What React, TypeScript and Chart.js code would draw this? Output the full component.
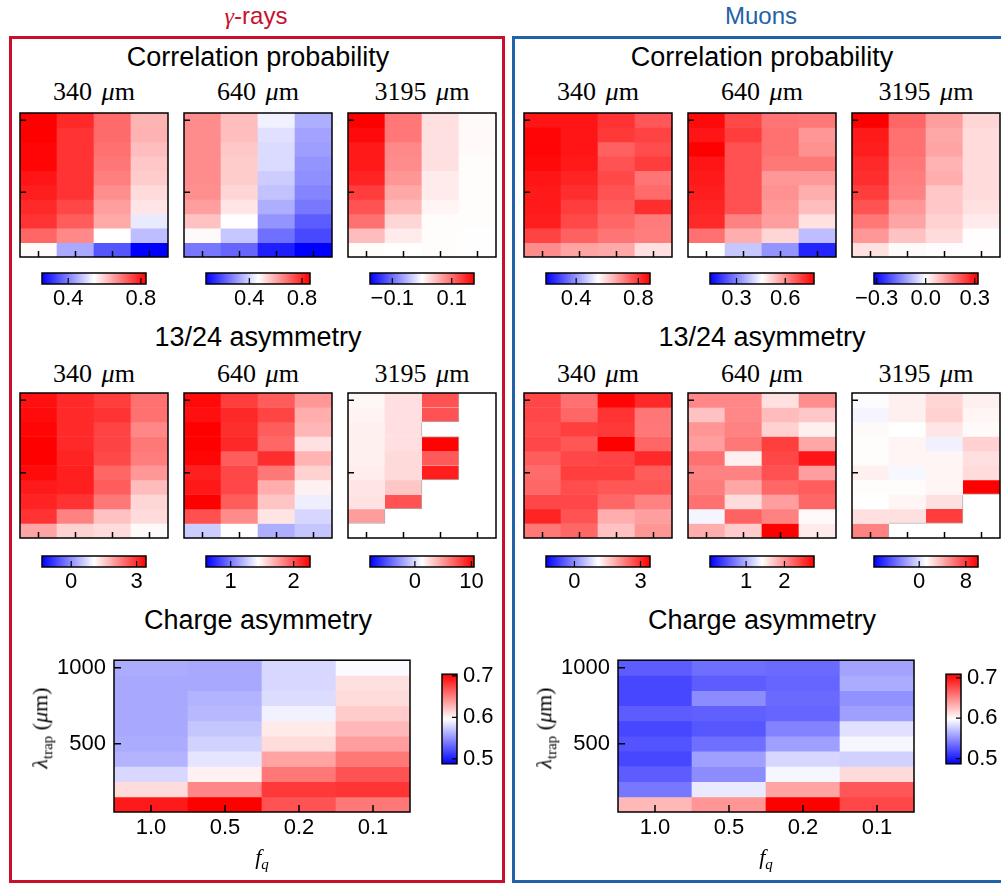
import React, { useEffect, useRef } from 'react';
import { Chart, registerables } from 'chart.js';

Chart.register(...registerables);

type Cell = number | null;
type Grid = Cell[][];

// Columns: quenching fraction f_q; rows: trap length λ_trap in μm (top row first)
const fqLabels = ['1.0', '0.5', '0.2', '0.1'];
const lambdaTrap = [1000, 900, 800, 700, 600, 500, 400, 300, 200, 100];
const lambdaStep = 100;
const lambdaTicks = [500, 1000];
const pitchLabels = ['340', '640', '3195'];

// γ-rays — correlation probability
const gammaCorr340: Grid = [
  [0.828, 0.782, 0.708, 0.626],
  [0.828, 0.771, 0.708, 0.628],
  [0.822, 0.771, 0.702, 0.616],
  [0.822, 0.771, 0.696, 0.605],
  [0.805, 0.771, 0.685, 0.599],
  [0.794, 0.771, 0.668, 0.582],
  [0.782, 0.748, 0.651, 0.571],
  [0.771, 0.725, 0.639, 0.519],
  [0.714, 0.674, 0.542, 0.468],
  [0.548, 0.445, 0.353, 0.256],
];
const gammaCorr640: Grid = [
  [0.644, 0.569, 0.442, 0.340],
  [0.644, 0.569, 0.419, 0.324],
  [0.644, 0.553, 0.411, 0.316],
  [0.644, 0.545, 0.411, 0.300],
  [0.644, 0.545, 0.387, 0.292],
  [0.640, 0.529, 0.371, 0.276],
  [0.616, 0.506, 0.340, 0.257],
  [0.561, 0.466, 0.300, 0.213],
  [0.474, 0.379, 0.245, 0.182],
  [0.257, 0.229, 0.118, 0.071],
];
const gammaCorr3195: Grid = [
  [0.175, 0.093, 0.021, 0.004],
  [0.168, 0.093, 0.021, 0.004],
  [0.158, 0.082, 0.021, 0.004],
  [0.158, 0.079, 0.021, 0.002],
  [0.151, 0.072, 0.014, 0.002],
  [0.133, 0.060, 0.014, 0.002],
  [0.119, 0.049, 0.007, 0.002],
  [0.098, 0.028, 0.002, 0.002],
  [0.046, 0.014, 0.002, 0.001],
  [0.002, 0.000, 0.002, 0.001],
];

// γ-rays — 13/24 asymmetry
const gammaAsym340: Grid = [
  [3.29, 3.05, 2.86, 2.38],
  [3.33, 3.05, 2.95, 2.38],
  [3.38, 3.05, 2.81, 2.17],
  [3.43, 3.05, 2.81, 2.31],
  [3.43, 3.10, 2.76, 2.26],
  [3.33, 3.14, 2.48, 2.02],
  [3.19, 3.14, 2.57, 1.67],
  [3.10, 2.95, 2.31, 1.43],
  [2.95, 2.21, 1.62, 1.38],
  [1.90, 1.47, 1.38, 1.09],
];
const gammaAsym640: Grid = [
  [2.23, 2.06, 1.96, 1.77],
  [2.21, 2.13, 2.04, 1.70],
  [2.26, 2.11, 1.96, 1.67],
  [2.26, 2.13, 1.93, 1.53],
  [2.24, 1.96, 2.11, 1.68],
  [2.16, 2.03, 1.87, 1.58],
  [2.18, 2.03, 1.70, 1.48],
  [2.26, 1.96, 1.62, 1.38],
  [2.00, 1.81, 1.52, 1.30],
  [1.27, 1.44, 1.17, 1.25],
];
const gammaAsym3195: Grid = [
  [1.6, 2.4, 7.5, null],
  [1.7, 2.4, 7.5, null],
  [1.8, 2.4, null, null],
  [1.8, 2.4, 10.4, null],
  [1.8, 2.6, 7.2, null],
  [1.9, 2.6, 9.4, null],
  [2.2, 3.3, null, null],
  [2.3, 7.5, null, null],
  [4.8, null, null, null],
  [null, null, null, null],
];

// γ-rays — charge asymmetry
const gammaCharge: Grid = [
  [0.561, 0.559, 0.579, 0.594],
  [0.559, 0.559, 0.579, 0.609],
  [0.559, 0.564, 0.581, 0.611],
  [0.559, 0.566, 0.590, 0.618],
  [0.559, 0.572, 0.605, 0.626],
  [0.561, 0.577, 0.611, 0.637],
  [0.564, 0.585, 0.635, 0.653],
  [0.579, 0.602, 0.653, 0.669],
  [0.611, 0.647, 0.680, 0.682],
  [0.693, 0.704, 0.669, 0.653],
];

// Muons — correlation probability
const muonCorr340: Grid = [
  [0.848, 0.848, 0.808, 0.761],
  [0.868, 0.848, 0.801, 0.788],
  [0.868, 0.848, 0.748, 0.775],
  [0.862, 0.842, 0.768, 0.795],
  [0.848, 0.828, 0.781, 0.721],
  [0.842, 0.815, 0.768, 0.735],
  [0.842, 0.795, 0.755, 0.815],
  [0.835, 0.781, 0.741, 0.714],
  [0.788, 0.748, 0.721, 0.711],
  [0.691, 0.661, 0.654, 0.581],
];
const muonCorr640: Grid = [
  [0.764, 0.687, 0.630, 0.627],
  [0.751, 0.700, 0.636, 0.588],
  [0.777, 0.675, 0.636, 0.595],
  [0.751, 0.675, 0.627, 0.627],
  [0.745, 0.675, 0.588, 0.585],
  [0.739, 0.675, 0.595, 0.559],
  [0.732, 0.675, 0.588, 0.540],
  [0.726, 0.614, 0.579, 0.495],
  [0.636, 0.559, 0.508, 0.374],
  [0.457, 0.387, 0.323, 0.182],
];
const muonCorr3195: Grid = [
  [0.320, 0.193, 0.123, 0.053],
  [0.288, 0.180, 0.110, 0.047],
  [0.282, 0.180, 0.116, 0.047],
  [0.269, 0.171, 0.097, 0.047],
  [0.263, 0.164, 0.104, 0.047],
  [0.244, 0.158, 0.072, 0.047],
  [0.218, 0.132, 0.072, 0.040],
  [0.171, 0.116, 0.059, 0.027],
  [0.132, 0.078, 0.047, 0.005],
  [0.040, 0.008, 0.005, 0.005],
];

// Muons — 13/24 asymmetry
const muonAsym340: Grid = [
  [2.77, 2.39, 3.38, 3.05],
  [2.77, 2.49, 2.96, 2.34],
  [2.72, 2.86, 2.91, 2.32],
  [2.77, 2.63, 3.43, 2.49],
  [2.58, 2.77, 2.82, 3.05],
  [2.44, 2.86, 2.86, 2.58],
  [2.49, 2.72, 2.63, 2.63],
  [2.77, 2.77, 2.49, 2.23],
  [3.10, 2.67, 1.83, 1.97],
  [2.32, 2.49, 1.64, 2.04],
];
const muonAsym640: Grid = [
  [2.05, 2.05, 1.58, 2.02],
  [1.74, 2.05, 1.77, 1.71],
  [1.98, 2.08, 1.66, 1.50],
  [1.93, 2.13, 2.44, 1.88],
  [2.17, 1.50, 2.39, 2.66],
  [2.08, 2.08, 2.34, 1.93],
  [2.11, 1.88, 2.23, 2.28],
  [2.17, 1.60, 1.93, 2.23],
  [1.36, 2.25, 2.08, 1.44],
  [1.85, 1.69, 2.77, 1.52],
];
const muonAsym3195: Grid = [
  [1.08, 1.71, 2.60, 1.71],
  [0.81, 1.71, 2.78, 1.53],
  [1.35, 1.17, 2.06, 1.35],
  [1.26, 1.53, 0.63, 2.78],
  [1.26, 1.53, 1.53, 2.24],
  [1.71, 0.90, 1.53, 2.42],
  [1.26, 1.26, 1.53, 10.1],
  [1.17, 1.53, 2.24, null],
  [2.24, 2.24, 7.96, null],
  [5.55, null, null, null],
];

// Muons — charge asymmetry
const muonCharge: Grid = [
  [0.527, 0.535, 0.533, 0.558],
  [0.518, 0.527, 0.531, 0.562],
  [0.518, 0.548, 0.533, 0.550],
  [0.527, 0.529, 0.531, 0.556],
  [0.518, 0.525, 0.544, 0.585],
  [0.523, 0.535, 0.556, 0.594],
  [0.518, 0.556, 0.580, 0.578],
  [0.527, 0.548, 0.594, 0.614],
  [0.539, 0.589, 0.638, 0.671],
  [0.629, 0.644, 0.709, 0.678],
];

// Colour limits and colour-bar ticks
const gammaCorrRange = [[0.256, 0.828], [0.071, 0.861], [-0.175, 0.175]];
const gammaCorrTicks = [[0.4, 0.8], [0.4, 0.8], [-0.1, 0.1]];
const gammaCorrTickText = [['0.4', '0.8'], ['0.4', '0.8'], ['\u22120.1', '0.1']];
const gammaAsymRange = [[-1.34, 3.43], [0.608, 2.259], [-7.94, 10.46]];
const gammaAsymTicks = [[0, 3], [1, 2], [0, 10]];
const gammaAsymTickText = [['0', '3'], ['1', '2'], ['0', '10']];
const gammaChargeRange = [0.488, 0.704];

const muonCorrRange = [[0.206, 0.875], [0.137, 0.777], [-0.316, 0.32]];
const muonCorrTicks = [[0.4, 0.8], [0.3, 0.6], [-0.3, 0, 0.3]];
const muonCorrTickText = [['0.4', '0.8'], ['0.3', '0.6'], ['\u22120.3', '0.0', '0.3']];
const muonAsymRange = [[-1.29, 3.43], [0.059, 2.77], [-7.76, 10.1]];
const muonAsymTicks = [[0, 3], [1, 2], [0, 8]];
const muonAsymTickText = [['0', '3'], ['1', '2'], ['0', '8']];
const muonChargeRange = [0.487, 0.709];

const chargeTicks = [0.5, 0.6, 0.7];
const chargeTickText = ['0.5', '0.6', '0.7'];

const SANS = "'Liberation Sans', Arial, Helvetica, sans-serif";
const SERIF = "'Liberation Serif', 'Times New Roman', serif";
const tickFont = { family: "'Liberation Sans', Arial, sans-serif", size: 22 };

// matplotlib "bwr" colormap: blue -> white -> red
function bwr(v: number, lo: number, hi: number): string {
  const t = Math.min(1, Math.max(0, (v - lo) / (hi - lo)));
  if (t <= 0.5) {
    const c = Math.round(510 * t);
    return `rgb(${c},${c},255)`;
  }
  const c = Math.round(510 * (1 - t));
  return `rgb(255,${c},${c})`;
}

// Frame around the plot area with inward-pointing tick marks
function heatmapFrame(tickLen: number) {
  return {
    id: 'heatmapFrame',
    afterDatasetsDraw(chart: any) {
      const { ctx, chartArea: a } = chart;
      const xs = chart.scales.x;
      const ys = chart.scales.y;
      ctx.save();
      ctx.strokeStyle = '#000';
      ctx.lineWidth = 1.5;
      ctx.beginPath();
      fqLabels.forEach((_, i) => {
        const x = xs.getPixelForValue(i);
        ctx.moveTo(x, a.bottom);
        ctx.lineTo(x, a.bottom - tickLen);
      });
      lambdaTicks.forEach((v) => {
        const y = ys.getPixelForValue(v);
        ctx.moveTo(a.left, y);
        ctx.lineTo(a.left + tickLen, y);
      });
      ctx.stroke();
      ctx.strokeRect(a.left, a.top, a.right - a.left, a.bottom - a.top);
      ctx.restore();
    },
  };
}

function colorbarFrame(vertical: boolean, ticks: number[]) {
  return {
    id: 'colorbarFrame',
    afterDatasetsDraw(chart: any) {
      const { ctx, chartArea: a } = chart;
      const s = vertical ? chart.scales.y : chart.scales.x;
      ctx.save();
      ctx.strokeStyle = '#000';
      ctx.lineWidth = 1.2;
      ctx.beginPath();
      ticks.forEach((v) => {
        const p = s.getPixelForValue(v);
        if (vertical) {
          ctx.moveTo(a.right, p);
          ctx.lineTo(a.right - 5, p);
        } else {
          ctx.moveTo(p, a.bottom);
          ctx.lineTo(p, a.bottom - 6);
        }
      });
      ctx.stroke();
      ctx.lineWidth = 1.5;
      ctx.strokeRect(a.left, a.top, a.right - a.left, a.bottom - a.top);
      ctx.restore();
    },
  };
}

type HeatmapProps = {
  grid: Grid;
  range: number[];
  left: number;
  top: number;
  width: number;
  height: number;
  axes?: boolean;
};

function Heatmap({ grid, range, left, top, width, height, axes = false }: HeatmapProps) {
  const ref = useRef<HTMLCanvasElement>(null);
  const pad = axes ? { top: 6, right: 4, left: 0, bottom: 0 } : { top: 3, right: 3, left: 3, bottom: 3 };
  const yAxisW = axes ? 60 : 0;
  const xAxisH = axes ? 34 : 0;
  const cw = pad.left + yAxisW + width + pad.right;
  const ch = pad.top + height + xAxisH + pad.bottom;

  useEffect(() => {
    if (!ref.current) return;
    const [lo, hi] = range;
    const empty = (r: number, c: number) =>
      r >= 0 && r < grid.length && c >= 0 && c < fqLabels.length && grid[r][c] == null;
    const datasets = lambdaTrap.map((lam, r) => ({
      label: String(lam),
      data: grid[r].map((v) => (v == null ? null : [lam - lambdaStep / 2, lam + lambdaStep / 2])),
      backgroundColor: grid[r].map((v) => (v == null ? 'rgba(0,0,0,0)' : bwr(v, lo, hi))),
      borderColor: 'rgb(175,175,175)',
      borderWidth: grid[r].map((v, c) =>
        v == null
          ? 0
          : {
              top: empty(r - 1, c) ? 1 : 0,
              bottom: empty(r + 1, c) ? 1 : 0,
              left: empty(r, c - 1) ? 1 : 0,
              right: empty(r, c + 1) ? 1 : 0,
            }
      ),
      borderSkipped: false,
      grouped: false,
      barPercentage: 1,
      categoryPercentage: 1,
    }));

    const xScale: any = {
      type: 'category',
      offset: true,
      display: axes,
      grid: { display: false, drawTicks: false },
      border: { display: false },
      ticks: { color: '#000', font: tickFont, padding: 3, maxRotation: 0 },
    };
    const yScale: any = {
      type: 'linear',
      min: lambdaTrap[lambdaTrap.length - 1] - lambdaStep / 2,
      max: lambdaTrap[0] + lambdaStep / 2,
      display: axes,
      grid: { display: false, drawTicks: false },
      border: { display: false },
      afterBuildTicks: (s: any) => {
        s.ticks = lambdaTicks.map((value) => ({ value }));
      },
      ticks: { color: '#000', font: tickFont, padding: 8, callback: (v: any) => String(v) },
    };
    if (axes) {
      xScale.afterFit = (s: any) => {
        s.height = xAxisH;
      };
      yScale.afterFit = (s: any) => {
        s.width = yAxisW;
      };
    }

    const chart = new Chart(ref.current, {
      type: 'bar',
      data: { labels: fqLabels, datasets: datasets as any },
      options: {
        responsive: false,
        animation: false,
        events: [],
        layout: { padding: pad },
        plugins: { legend: { display: false }, tooltip: { enabled: false } },
        scales: { x: xScale, y: yScale },
      } as any,
      plugins: [heatmapFrame(axes ? 7 : 6)],
    });
    return () => chart.destroy();
  }, []);

  return (
    <canvas
      ref={ref}
      width={cw}
      height={ch}
      style={{ position: 'absolute', left: left - pad.left - yAxisW, top: top - pad.top, width: cw, height: ch }}
    />
  );
}

type ColorbarProps = {
  range: number[];
  ticks: number[];
  text: string[];
  left: number;
  top: number;
  width: number;
  height: number;
  vertical?: boolean;
};

function Colorbar({ range, ticks, text, left, top, width, height, vertical = false }: ColorbarProps) {
  const ref = useRef<HTMLCanvasElement>(null);
  const pad = vertical ? { left: 2, right: 0, top: 14, bottom: 14 } : { left: 30, right: 30, top: 2, bottom: 0 };
  const axisSize = vertical ? 48 : 30;
  const cw = pad.left + width + pad.right + (vertical ? axisSize : 0);
  const ch = pad.top + height + pad.bottom + (vertical ? 0 : axisSize);

  useEffect(() => {
    if (!ref.current) return;
    const [lo, hi] = range;
    const fill = (c: any) => {
      const a = c.chart.chartArea;
      if (!a) return '#ffffff';
      const g = vertical
        ? c.chart.ctx.createLinearGradient(0, a.bottom, 0, a.top)
        : c.chart.ctx.createLinearGradient(a.left, 0, a.right, 0);
      g.addColorStop(0, 'rgb(0,0,255)');
      g.addColorStop(0.5, 'rgb(255,255,255)');
      g.addColorStop(1, 'rgb(255,0,0)');
      return g;
    };
    const valueAxis: any = {
      type: 'linear',
      min: lo,
      max: hi,
      position: vertical ? 'right' : 'bottom',
      grid: { display: false, drawTicks: false },
      border: { display: false },
      afterBuildTicks: (s: any) => {
        s.ticks = ticks.map((value) => ({ value }));
      },
      ticks: {
        color: '#000',
        font: tickFont,
        padding: vertical ? 6 : 2,
        autoSkip: false,
        maxRotation: 0,
        callback: (_v: any, i: number) => text[i],
      },
      afterFit: (s: any) => {
        if (vertical) s.width = axisSize;
        else s.height = axisSize;
      },
    };
    const indexAxis: any = { type: 'category', display: false, offset: true };
    const chart = new Chart(ref.current, {
      type: 'bar',
      data: {
        labels: [''],
        datasets: [
          { data: [[lo, hi]] as any, backgroundColor: fill, borderWidth: 0, barPercentage: 1, categoryPercentage: 1 },
        ],
      },
      options: {
        indexAxis: vertical ? 'x' : 'y',
        responsive: false,
        animation: false,
        events: [],
        layout: { padding: pad },
        plugins: { legend: { display: false }, tooltip: { enabled: false } },
        scales: vertical ? { x: indexAxis, y: valueAxis } : { x: valueAxis, y: indexAxis },
      } as any,
      plugins: [colorbarFrame(vertical, ticks)],
    });
    return () => chart.destroy();
  }, []);

  return (
    <canvas
      ref={ref}
      width={cw}
      height={ch}
      style={{ position: 'absolute', left: left - pad.left, top: top - pad.top, width: cw, height: ch }}
    />
  );
}

function Label({ x, y, size, family, color = '#000', style, children }: any) {
  return (
    <div
      style={{
        position: 'absolute',
        left: x,
        top: y - size / 2,
        transform: 'translateX(-50%)',
        whiteSpace: 'nowrap',
        fontSize: size,
        lineHeight: `${size}px`,
        fontFamily: family,
        color,
        ...style,
      }}
    >
      {children}
    </div>
  );
}

const panels = [
  {
    key: 'gamma',
    dx: 0,
    color: '#c8102e',
    title: (
      <>
        <i style={{ fontFamily: SERIF }}>γ</i>-rays
      </>
    ),
    corr: [gammaCorr340, gammaCorr640, gammaCorr3195],
    corrRange: gammaCorrRange,
    corrTicks: gammaCorrTicks,
    corrText: gammaCorrTickText,
    asym: [gammaAsym340, gammaAsym640, gammaAsym3195],
    asymRange: gammaAsymRange,
    asymTicks: gammaAsymTicks,
    asymText: gammaAsymTickText,
    charge: gammaCharge,
    chargeRange: gammaChargeRange,
  },
  {
    key: 'muon',
    dx: 504,
    color: '#2262a8',
    title: <>Muons</>,
    corr: [muonCorr340, muonCorr640, muonCorr3195],
    corrRange: muonCorrRange,
    corrTicks: muonCorrTicks,
    corrText: muonCorrTickText,
    asym: [muonAsym340, muonAsym640, muonAsym3195],
    asymRange: muonAsymRange,
    asymTicks: muonAsymTicks,
    asymText: muonAsymTickText,
    charge: muonCharge,
    chargeRange: muonChargeRange,
  },
];

const smallLeft = [20, 184, 348];
const smallW = 148;
const smallH = 144;
const smallTop = [113, 393];
const cbarTop = [273, 556];
const cbarW = 104;
const cbarH = 11;

function PitchTitle({ x, y, pitch }: { x: number; y: number; pitch: string }) {
  return (
    <Label x={x} y={y} size={26} family={SERIF} style={{ wordSpacing: 3 }}>
      {pitch} <i>μ</i>m
    </Label>
  );
}

export default function App() {
  return (
    <div
      style={{
        position: 'absolute',
        left: 0,
        top: 0,
        width: 1001,
        height: 884,
        overflow: 'hidden',
        background: '#fff',
      }}
    >
      {panels.map((p) => (
        <React.Fragment key={p.key}>
          <div
            style={{
              position: 'absolute',
              left: 9 + p.dx - (p.dx ? 1 : 0),
              top: 36,
              width: p.dx ? 520 : 496,
              height: 847,
              border: `3px solid ${p.color}`,
              boxSizing: 'border-box',
            }}
          />
          <Label x={256 + p.dx + (p.dx ? 1 : 0)} y={16} size={24} family={SANS} color={p.color}>
            {p.title}
          </Label>

          <Label x={258 + p.dx} y={57} size={27} family={SANS}>
            Correlation probability
          </Label>
          <Label x={258 + p.dx} y={337} size={27} family={SANS}>
            13/24 asymmetry
          </Label>
          <Label x={258 + p.dx} y={620} size={27} family={SANS}>
            Charge asymmetry
          </Label>

          {pitchLabels.map((pitch, i) => (
            <React.Fragment key={'corr' + pitch}>
              <PitchTitle x={smallLeft[i] + p.dx + smallW / 2} y={92} pitch={pitch} />
              <Heatmap
                grid={p.corr[i]}
                range={p.corrRange[i]}
                left={smallLeft[i] + p.dx}
                top={smallTop[0]}
                width={smallW}
                height={smallH}
              />
              <Colorbar
                range={p.corrRange[i]}
                ticks={p.corrTicks[i]}
                text={p.corrText[i]}
                left={smallLeft[i] + p.dx + 22}
                top={cbarTop[0]}
                width={cbarW}
                height={cbarH}
              />
            </React.Fragment>
          ))}

          {pitchLabels.map((pitch, i) => (
            <React.Fragment key={'asym' + pitch}>
              <PitchTitle x={smallLeft[i] + p.dx + smallW / 2} y={374} pitch={pitch} />
              <Heatmap
                grid={p.asym[i]}
                range={p.asymRange[i]}
                left={smallLeft[i] + p.dx}
                top={smallTop[1]}
                width={smallW}
                height={smallH + 1}
              />
              <Colorbar
                range={p.asymRange[i]}
                ticks={p.asymTicks[i]}
                text={p.asymText[i]}
                left={smallLeft[i] + p.dx + 22}
                top={cbarTop[1]}
                width={cbarW}
                height={cbarH}
              />
            </React.Fragment>
          ))}

          <Heatmap grid={p.charge} range={p.chargeRange} left={114 + p.dx} top={645} width={296} height={167} axes />
          <Colorbar
            range={p.chargeRange}
            ticks={chargeTicks}
            text={chargeTickText}
            left={442 + p.dx}
            top={669}
            width={15}
            height={100}
            vertical
          />

          <div
            style={{
              position: 'absolute',
              left: 44 + p.dx,
              top: 728,
              transform: 'translate(-50%, -50%) rotate(-90deg)',
              whiteSpace: 'nowrap',
              fontFamily: SERIF,
              fontSize: 22,
              lineHeight: '22px',
            }}
          >
            <i>λ</i>
            <sub style={{ fontSize: 15 }}>trap</sub> (<i>μ</i>m)
          </div>
          <Label x={262 + p.dx} y={857} size={22} family={SERIF}>
            <i>f</i>
            <sub style={{ fontSize: 15 }}>
              <i>q</i>
            </sub>
          </Label>
        </React.Fragment>
      ))}
    </div>
  );
}
